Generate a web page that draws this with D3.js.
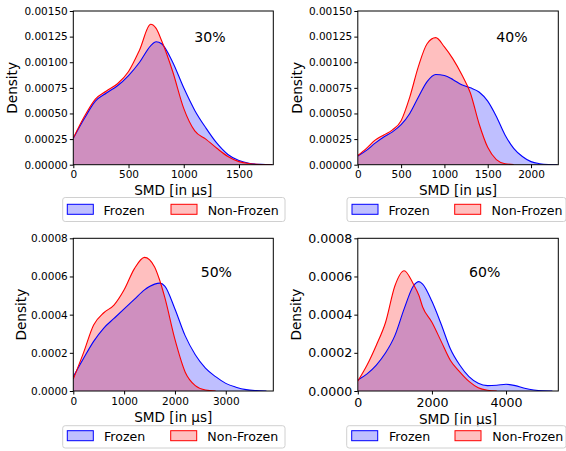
<!DOCTYPE html>
<html>
<head>
<meta charset="utf-8">
<script src="https://cdn.jsdelivr.net/npm/d3@7"></script>
<style>
  html, body { margin: 0; padding: 0; background: #fff; }
  svg { display: block; font-family: "DejaVu Sans", sans-serif; }
</style>
</head>
<body>
<svg id="chart" width="566" height="451"></svg>
<script>
// ---------------- DATA ----------------
const seriesNames = ["Frozen", "Non-Frozen"];
const panelLabels = ["30%", "40%", "50%", "60%"];

const x30 = [0,100,200,300,400,500,600,700,750,800,900,1000,1100,1200,1300,1400,1500,1600,1700,1800];
const frozen30 = [0.000257,0.00045,0.00062,0.00070,0.00077,0.00087,0.00100,0.00116,0.00120,0.00118,0.00100,0.00075,0.00053,0.00036,0.00021,0.00010,0.00004,0.000012,0.000003,0];
const nonFrozen30 = [0.00026,0.00047,0.00064,0.00072,0.00079,0.00091,0.00112,0.00137,0.00133,0.00121,0.00091,0.00055,0.00033,0.00025,0.00016,0.00008,0.00003,0.00001,0.000002,0];

const x40 = [0,100,200,300,400,500,600,700,800,900,1000,1100,1200,1300,1400,1500,1600,1700,1800,1900,2000,2100,2200,2300];
const frozen40 = [0.000085,0.00014,0.00021,0.00027,0.00032,0.00039,0.00050,0.00066,0.00081,0.00088,0.00087,0.00083,0.00078,0.00075,0.00071,0.00062,0.00047,0.00029,0.00016,0.00008,0.00003,0.00001,0.000002,0];
const nonFrozen40 = [0.00009,0.00016,0.00024,0.00029,0.00034,0.00043,0.00066,0.00096,0.00118,0.00124,0.00115,0.00103,0.00088,0.00070,0.00040,0.00017,0.00005,0.00001,0.000002,null,null,null,null,null];

const x50 = [0,200,400,600,800,1000,1200,1400,1600,1700,1800,2000,2200,2400,2600,2800,3000,3200,3400,3600,3800];
const frozen50 = [0.000075,0.00017,0.00026,0.00033,0.00038,0.00043,0.00048,0.00053,0.00056,0.000565,0.00055,0.00043,0.00029,0.00019,0.00012,0.000075,0.00004,0.00002,0.000007,0.000002,0];
const nonFrozen50 = [0.000063,0.00020,0.000346,0.00041,0.00045,0.00053,0.00064,0.00070,0.00065,0.00058,0.00049,0.00027,0.00010,0.000028,0.000005,0,null,null,null,null,null];

const x60 = [0,250,500,750,1000,1250,1500,1650,1750,2000,2250,2500,2750,3000,3250,3500,3750,4000,4250,4500,4750,5000,5250];
const frozen60 = [0.000058,0.00009,0.000136,0.00020,0.00029,0.00043,0.00055,0.000573,0.00056,0.00047,0.00035,0.00022,0.000136,0.000075,0.00004,0.000028,0.00003,0.000035,0.000028,0.000014,0.000005,0.000001,0];
const nonFrozen60 = [0.000052,0.000136,0.00024,0.00036,0.00055,0.00063,0.00056,0.00050,0.00044,0.00036,0.00026,0.00016,0.00010,0.00005,0.000017,0.000004,0,null,null,null,null,null,null];

const xTicks30 = [0,500,1000,1500];
const xTicks40 = [0,500,1000,1500,2000];
const xTicks50 = [0,1000,2000,3000];
const xTicks60 = [0,2000,4000];
const yTicksTop = [0,0.00025,0.0005,0.00075,0.001,0.00125,0.0015];
const yTicksBottom = [0,0.0002,0.0004,0.0006,0.0008];

// ---------------- LAYOUT ----------------
const colors = { frozen: "#0000ff", nonFrozen: "#ff0000" };
const svg = d3.select("#chart");

const panels = [
  { xs: x30, f: frozen30, n: nonFrozen30, label: panelLabels[0], xTicks: xTicks30, yTicks: yTicksTop, yFmt: ".5f",
    left: 73.3, right: 273.3, top: 11, bottom: 164.7, xMax: 1811, yMax: 0.0015, tickFs: 10.5,
    xTickBase: 178.5, xLabelBase: 194.5, yLabelX: 17.2, annX: 194.3, annY: 41.7,
    leg: { x0: 62.7, x1: 285, y0: 197.5, y1: 221.5, p1: 67.3, t1: 103.5, p2: 171, t2: 207.7, py: 204.3, tb: 214.6 } },
  { xs: x40, f: frozen40, n: nonFrozen40, label: panelLabels[1], xTicks: xTicks40, yTicks: yTicksTop, yFmt: ".5f",
    left: 357.8, right: 558.3, top: 11, bottom: 164.7, xMax: 2315, yMax: 0.0015, tickFs: 10.5,
    xTickBase: 178.5, xLabelBase: 194.5, yLabelX: 302.2, annX: 496.3, annY: 41.7,
    leg: { x0: 347, x1: 566, y0: 197.5, y1: 221.5, p1: 352, t1: 388.5, p2: 454.7, t2: 491.5, py: 204.3, tb: 214.6 } },
  { xs: x50, f: frozen50, n: nonFrozen50, label: panelLabels[2], xTicks: xTicks50, yTicks: yTicksBottom, yFmt: ".4f",
    left: 73.3, right: 273.3, top: 238.3, bottom: 391, xMax: 3935, yMax: 0.0008, tickFs: 10.5,
    xTickBase: 405, xLabelBase: 422, yLabelX: 25.9, annX: 200.7, annY: 276.7,
    leg: { x0: 62.7, x1: 285, y0: 425.7, y1: 448, p1: 67.3, t1: 104, p2: 170.7, t2: 207.3, py: 430.7, tb: 440.7 } },
  { xs: x60, f: frozen60, n: nonFrozen60, label: panelLabels[3], xTicks: xTicks60, yTicks: yTicksBottom, yFmt: ".4f",
    left: 357.8, right: 558.3, top: 238.3, bottom: 391, xMax: 5410, yMax: 0.0008, tickFs: 12.6,
    xTickBase: 407.3, xLabelBase: 423.5, yLabelX: 301.2, annX: 469, annY: 276.7,
    leg: { x0: 346.7, x1: 566, y0: 425.7, y1: 448, p1: 351.7, t1: 389, p2: 455, t2: 492.3, py: 430.7, tb: 440.7 } }
];

panels.forEach((p, i) => {
  const g = svg.append("g");
  const x = d3.scaleLinear().domain([0, p.xMax]).range([p.left, p.right]);
  const y = d3.scaleLinear().domain([0, p.yMax]).range([p.bottom, p.top]);

  const clipId = "clip" + i;
  svg.append("clipPath").attr("id", clipId).append("rect")
    .attr("x", p.left).attr("y", p.top).attr("width", p.right - p.left).attr("height", p.bottom - p.top);

  const series = [
    { vals: p.f, color: colors.frozen },
    { vals: p.n, color: colors.nonFrozen }
  ].map(s => ({ color: s.color, pts: p.xs.map((xv, k) => ({ x: xv, y: s.vals[k] })) }));

  const area = d3.area()
    .defined(d => d.y != null)
    .x(d => x(d.x)).y0(y(0)).y1(d => y(d.y))
    .curve(d3.curveMonotoneX);
  const line = d3.line()
    .defined(d => d.y != null)
    .x(d => x(d.x)).y(d => y(d.y))
    .curve(d3.curveMonotoneX);

  const plot = g.append("g").attr("clip-path", `url(#${clipId})`);
  series.forEach(s => {
    plot.append("path").datum(s.pts).attr("d", area)
      .attr("fill", s.color).attr("fill-opacity", 0.25).attr("stroke", "none");
  });
  series.forEach(s => {
    plot.append("path").datum(s.pts).attr("d", line)
      .attr("fill", "none").attr("stroke", s.color).attr("stroke-width", 1.1);
  });

  // frame
  g.append("rect").attr("x", p.left).attr("y", p.top)
    .attr("width", p.right - p.left).attr("height", p.bottom - p.top)
    .attr("fill", "none").attr("stroke", "#000").attr("stroke-width", 1);

  // x axis ticks
  const xAxis = d3.axisBottom(x).tickValues(p.xTicks).tickSize(3.5).tickPadding(2).tickFormat(d3.format("d"));
  const xg = g.append("g").attr("transform", `translate(0,${p.bottom})`).call(xAxis);
  xg.select(".domain").remove();
  xg.selectAll("text").attr("font-size", p.tickFs).attr("font-family", "DejaVu Sans")
    .attr("fill", "#000").attr("dy", null).attr("y", p.xTickBase - p.bottom);
  xg.selectAll("line").attr("stroke", "#000");

  // y axis ticks
  const yAxis = d3.axisLeft(y).tickValues(p.yTicks).tickSize(3.5).tickPadding(2).tickFormat(d3.format(p.yFmt));
  const yg = g.append("g").attr("transform", `translate(${p.left},0)`).call(yAxis);
  yg.select(".domain").remove();
  yg.selectAll("text").attr("font-size", p.tickFs).attr("font-family", "DejaVu Sans").attr("fill", "#000");
  yg.selectAll("line").attr("stroke", "#000");

  // axis labels
  g.append("text").attr("x", (p.left + p.right) / 2).attr("y", p.xLabelBase)
    .attr("text-anchor", "middle").attr("font-size", 13.6).text("SMD [in µs]");
  g.append("text")
    .attr("transform", `translate(${p.yLabelX},${(p.top + p.bottom) / 2}) rotate(-90)`)
    .attr("text-anchor", "middle").attr("font-size", 13.6).text("Density");

  // annotation
  g.append("text").attr("x", p.annX).attr("y", p.annY).attr("font-size", 14.1).text(p.label);

  // legend
  const L = p.leg;
  g.append("rect").attr("x", L.x0).attr("y", L.y0).attr("width", L.x1 - L.x0).attr("height", L.y1 - L.y0)
    .attr("rx", 2.5).attr("fill", "#fff").attr("fill-opacity", 0.8).attr("stroke", "#d0d0d0").attr("stroke-width", 1);
  [[L.p1, L.t1, colors.frozen, seriesNames[0]], [L.p2, L.t2, colors.nonFrozen, seriesNames[1]]].forEach(([px, tx, c, name]) => {
    g.append("rect").attr("x", px).attr("y", L.py).attr("width", 26).attr("height", 10)
      .attr("fill", c).attr("fill-opacity", 0.25).attr("stroke", c).attr("stroke-width", 1);
    g.append("text").attr("x", tx).attr("y", L.tb).attr("font-size", 12.6).text(name);
  });
});
</script>
</body>
</html>
